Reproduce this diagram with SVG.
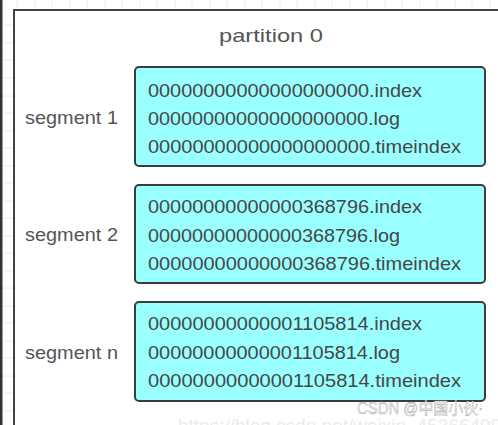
<svg xmlns="http://www.w3.org/2000/svg" width="498" height="425" viewBox="0 0 498 425">
<style>
.grid{stroke:#ececec;stroke-width:1}
.lbl{font-family:"Liberation Sans",Arial,sans-serif;font-size:19px;fill:#555}
.file{font-family:"Liberation Sans",Arial,sans-serif;font-size:19px;fill:#474747}
.box{fill:#99ffff;stroke:#3c3c3c;stroke-width:2}
.wm{font-family:"Liberation Sans","Noto Sans CJK SC",sans-serif}
</style>
<rect x="0" y="0" width="498" height="425" fill="#ffffff"/>
<g id="grid">
<path class="grid" d="M17 0V9M35 0V9M52 0V9M70 0V9M87 0V9M105 0V9M122 0V9M140 0V9M157 0V9M175 0V9M192 0V9M210 0V9M227 0V9M245 0V9M262 0V9M280 0V9M297 0V9M315 0V9M332 0V9M350 0V9M367 0V9M385 0V9M402 0V9M420 0V9M437 0V9M455 0V9M472 0V9M490 0V9"/>
<path class="grid" d="M3 25H13M3 43H13M3 60H13M3 78H13M3 96H13M3 113H13M3 131H13M3 148H13M3 166H13M3 183H13M3 201H13M3 218H13M3 236H13M3 253H13M3 271H13M3 288H13M3 306H13M3 323H13M3 341H13M3 358H13M3 376H13M3 393H13M3 411H13"/>
<rect x="0" y="0" width="2.5" height="425" fill="#2e3338"/>
</g>
<g id="partition">
<rect x="14" y="10" width="500" height="430" fill="#ffffff" stroke="#444" stroke-width="2"/>
<text class="lbl" x="271" y="42" text-anchor="middle" textLength="104" lengthAdjust="spacingAndGlyphs">partition 0</text>
</g>
<g id="segment1">
<text class="lbl" x="25" y="124" textLength="93" lengthAdjust="spacingAndGlyphs">segment 1</text>
<rect class="box" x="135" y="67" width="350" height="99" rx="4"/>
<text class="file" x="148" y="97" textLength="274" lengthAdjust="spacingAndGlyphs">00000000000000000000.index</text>
<text class="file" x="148" y="125" textLength="252" lengthAdjust="spacingAndGlyphs">00000000000000000000.log</text>
<text class="file" x="148" y="153" textLength="313" lengthAdjust="spacingAndGlyphs">00000000000000000000.timeindex</text>
</g>
<g id="segment2">
<text class="lbl" x="25" y="241" textLength="93" lengthAdjust="spacingAndGlyphs">segment 2</text>
<rect class="box" x="135" y="185" width="350" height="98" rx="4"/>
<text class="file" x="148" y="213" textLength="274" lengthAdjust="spacingAndGlyphs">00000000000000368796.index</text>
<text class="file" x="148" y="242" textLength="252" lengthAdjust="spacingAndGlyphs">00000000000000368796.log</text>
<text class="file" x="148" y="270" textLength="313" lengthAdjust="spacingAndGlyphs">00000000000000368796.timeindex</text>
</g>
<g id="segmentn">
<text class="lbl" x="25" y="359" textLength="93" lengthAdjust="spacingAndGlyphs">segment n</text>
<rect class="box" x="135" y="302" width="350" height="99" rx="4"/>
<text class="file" x="148" y="330" textLength="274" lengthAdjust="spacingAndGlyphs">00000000000001105814.index</text>
<text class="file" x="148" y="359" textLength="252" lengthAdjust="spacingAndGlyphs">00000000000001105814.log</text>
<text class="file" x="148" y="387" textLength="313" lengthAdjust="spacingAndGlyphs">00000000000001105814.timeindex</text>
</g>
<g id="connectors"></g>
<g id="watermark">
<text class="wm" x="178" y="432" font-size="19" fill="#ebebeb">https://blog.csdn.net/weixin_45366499</text>
<text class="wm" x="357" y="414" font-size="16" fill="#f7f7f7" stroke="#9a9a9a" stroke-width="0.4" textLength="126" lengthAdjust="spacingAndGlyphs">CSDN @中国小伙·</text>
</g>
</svg>
